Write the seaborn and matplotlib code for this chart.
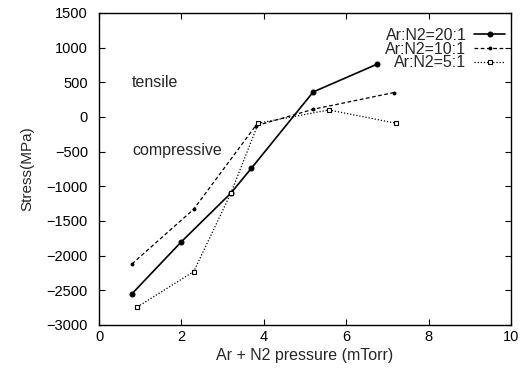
import matplotlib
matplotlib.use("Agg")
import matplotlib.pyplot as plt
import seaborn as sns
import pandas as pd

# Data
x_20 = [0.8, 2.0, 3.2, 3.7, 5.2, 6.75]
y_20 = [-2550, -1800, -1100, -740, 360, 760]
x_10 = [0.8, 2.3, 3.8, 5.2, 7.15]
y_10 = [-2120, -1330, -130, 110, 350]
x_5 = [0.93, 2.3, 3.2, 3.87, 5.58, 7.2]
y_5 = [-2740, -2230, -1100, -90, 100, -90]
labels = ["Ar:N2=20:1", "Ar:N2=10:1", "Ar:N2=5:1"]
xticks = [0, 2, 4, 6, 8, 10]
yticks = [1500, 1000, 500, 0, -500, -1000, -1500, -2000, -2500, -3000]

sns.set_style("ticks")
plt.rcParams['font.family'] = ['Liberation Sans', 'DejaVu Sans']

fig = plt.figure(figsize=(5.24, 3.68), dpi=100)
ax = fig.add_axes([0.189, 0.117, 0.786, 0.848])

styles = [
    (x_20, y_20, labels[0], '-', 'o', 3.5, 'black', 1.2),
    (x_10, y_10, labels[1], (0, (3, 2)), 'o', 2.0, 'black', 0.9),
    (x_5, y_5, labels[2], (0, (1, 1.5)), 's', 3.5, 'white', 0.9),
]
for xs, ys, lab, ls, mk, ms, mfc, lw in styles:
    df = pd.DataFrame({"x": xs, "y": ys})
    sns.lineplot(data=df, x="x", y="y", ax=ax, color="black", linestyle=ls,
                 marker=mk, markersize=ms, markerfacecolor=mfc,
                 markeredgecolor="black", markeredgewidth=0.8,
                 linewidth=lw, label=lab, sort=False, estimator=None)

ax.set_xlim(0, 10)
ax.set_ylim(-3000, 1500)
ax.set_xticks(xticks)
ax.set_yticks(yticks)
ax.tick_params(direction='in', top=True, right=True, length=4, width=0.8,
               labelsize=10.5, colors='black')
ax.tick_params(axis='y', pad=8)
ax.tick_params(axis='x', pad=4)
for s in ax.spines.values():
    s.set_linewidth(1.0)
    s.set_color('black')

ax.set_xlabel("Ar + N2 pressure (mTorr)", fontsize=11.5)
ax.xaxis.set_label_coords(0.5, -0.073)
ax.set_ylabel("Stress(MPa)", fontsize=11)
ax.yaxis.set_label_coords(-0.158, 0.5)

ax.text(0.8, 490, "tensile", fontsize=11.5, va='center', ha='left')
ax.text(0.8, -490, "compressive", fontsize=11.5, va='center', ha='left')

leg = ax.legend(loc='upper right', frameon=False, markerfirst=False,
                fontsize=11.5, handlelength=1.9, borderaxespad=0.0,
                borderpad=0.0, labelspacing=-0.08, handletextpad=0.5,
                bbox_to_anchor=(0.985, 0.952))

fig.savefig("out.png", dpi=100)
